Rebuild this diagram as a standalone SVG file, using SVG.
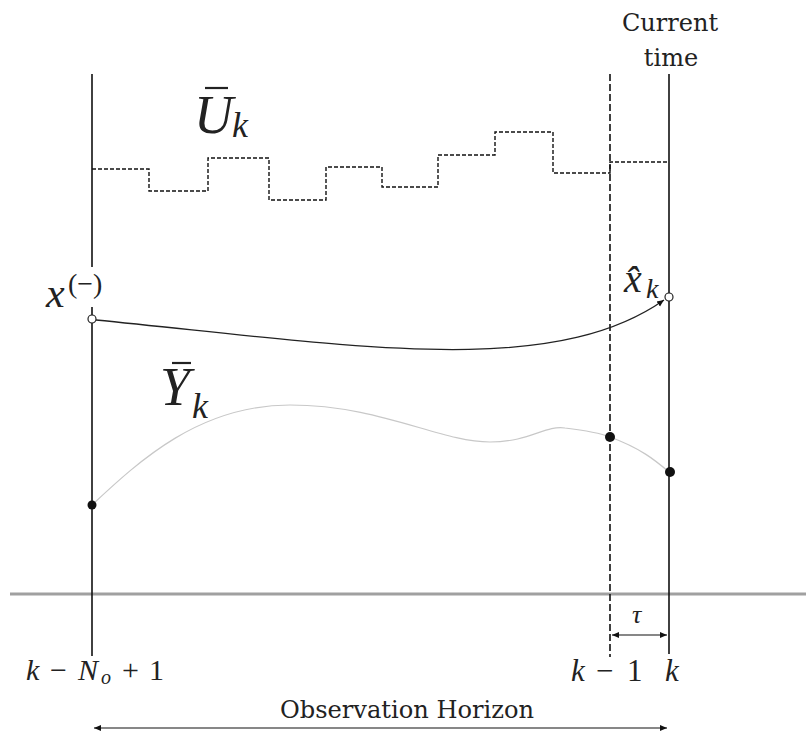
<svg xmlns="http://www.w3.org/2000/svg" width="806" height="731" viewBox="0 0 806 731">
<style>
.t{font-family:"DejaVu Serif","Liberation Serif",serif;fill:#222}
.r{font-family:"Liberation Serif","DejaVu Serif",serif;fill:#222}
.m{font-family:"Liberation Serif","DejaVu Serif",serif;font-style:italic;fill:#222}
.ax{stroke:#111;stroke-width:1.6;fill:none}
.dash{stroke:#111;stroke-width:1.6;fill:none;stroke-dasharray:7 3}
.step{stroke:#111;stroke-width:1.4;fill:none;stroke-dasharray:4 2}
</style>
<defs>
<marker id="ah" markerWidth="8" markerHeight="8" refX="7" refY="4" orient="auto-start-reverse" markerUnits="userSpaceOnUse">
<path d="M0,1 L7,4 L0,7 z" fill="#111"/>
</marker>
</defs>
<rect width="806" height="731" fill="#fff"/>
<g id="ground"><line x1="10" y1="594" x2="806" y2="594" stroke="#a0a0a0" stroke-width="3"/></g>
<g id="axes">
<line class="ax" x1="92" y1="74" x2="92" y2="267"/>
<line class="ax" x1="92" y1="307" x2="92" y2="656"/>
<line class="dash" x1="610" y1="74" x2="610" y2="657"/>
<line class="ax" x1="669" y1="74" x2="669" y2="654"/>
</g>
<g id="input">
<path class="step" d="M92 169 H149 V191 H208 V158 H269 V200 H326 V167 H382 V187 H438 V155 H495 V132 H553 V173 H610 V162 H669"/>
<text class="m" x="194" y="133" font-size="54">U</text>
<line x1="205" y1="88" x2="228" y2="88" stroke="#222" stroke-width="2.2"/>
<text class="m" x="232" y="137" font-size="36">k</text>
</g>
<g id="connectors">
<path d="M96 320 C350 345 550 380 664 300" stroke="#222" stroke-width="1.3" fill="none" marker-end="url(#ah)"/>
<path d="M92 505 C140 460 200 405 290 405 C380 405 440 442 490 442 C530 442 545 425 565 428 C590 431 600 433 610 437 C640 448 655 460 669 472" stroke="#c8c8c8" stroke-width="1.2" fill="none"/>
<line x1="612" y1="635" x2="667" y2="635" stroke="#111" stroke-width="1.2" marker-start="url(#ah)" marker-end="url(#ah)"/>
<line x1="94" y1="728" x2="667" y2="728" stroke="#111" stroke-width="1.2" marker-start="url(#ah)" marker-end="url(#ah)"/>
</g>
<g id="state-start">
<circle cx="92" cy="319" r="4" fill="#fff" stroke="#222" stroke-width="1.2"/>
<text class="m" x="46" y="307" font-size="42">x</text>
<text class="r" x="68" y="293" font-size="28">(−)</text>
</g>
<g id="state-end">
<circle cx="669" cy="297" r="4" fill="#fff" stroke="#222" stroke-width="1.2"/>
<text class="m" x="624" y="292" font-size="40">x̂</text>
<text class="m" x="646" y="298" font-size="28">k</text>
</g>
<g id="output">
<circle cx="92" cy="505" r="4.5" fill="#111"/>
<circle cx="610" cy="437" r="5" fill="#111"/>
<circle cx="670" cy="472" r="5" fill="#111"/>
<text class="m" x="160" y="405" font-size="54">Y</text>
<line x1="172" y1="363" x2="191" y2="363" stroke="#222" stroke-width="2.2"/>
<text class="m" x="192" y="418" font-size="36">k</text>
</g>
<g id="labels">
<text class="t" x="670" y="31" font-size="24" text-anchor="middle">Current</text>
<text class="t" x="671" y="66" font-size="24" text-anchor="middle">time</text>
<text class="m" x="632" y="623" font-size="26">τ</text>
<text class="m" y="680" font-size="30"><tspan x="26">k</tspan><tspan class="r" font-style="normal" x="50" textLength="21">−</tspan><tspan x="78">N</tspan><tspan x="101" font-size="20" dy="4">o</tspan><tspan class="r" font-style="normal" x="122" dy="-4">+</tspan><tspan class="r" font-style="normal" x="149">1</tspan></text>
<text class="m" y="681" font-size="31"><tspan x="571">k</tspan><tspan class="r" font-style="normal" x="596">−</tspan><tspan class="r" font-style="normal" x="627">1</tspan><tspan x="665">k</tspan></text>
<text class="t" x="280" y="718" font-size="25" textLength="254" lengthAdjust="spacingAndGlyphs">Observation Horizon</text>
</g>
</svg>
